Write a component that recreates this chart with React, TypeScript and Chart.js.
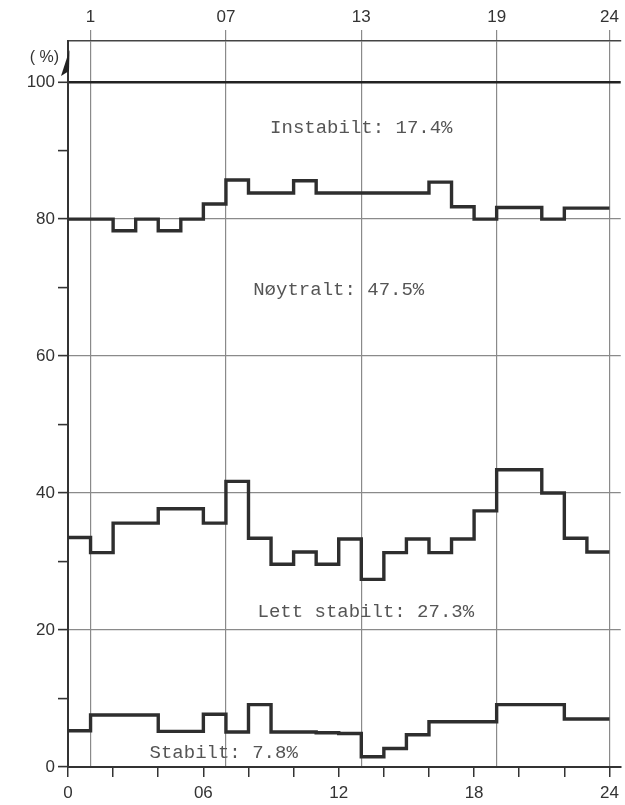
import { useEffect, useRef } from 'react';
import { Chart, registerables } from 'chart.js';

Chart.register(...registerables);

// Hour of day at which each step starts (each step lasts one hour)
const hourStarts = [0, 1, 2, 3, 4, 5, 6, 7, 8, 9, 10, 11, 12, 13, 14, 15, 16, 17, 18, 19, 20, 21, 22, 23];

// Cumulative boundaries (%)
// Upper boundary: Stabilt + Lett stabilt + Nøytralt (above = Instabilt)
const neutralTop = [80, 80, 78.3, 80, 78.3, 80, 82.2, 85.7, 83.8, 83.8, 85.6, 83.8, 83.8, 83.8, 83.8, 83.8, 85.4, 81.8, 80, 81.7, 81.7, 80, 81.6, 81.6];
// Stabilt + Lett stabilt (above = Nøytralt)
const lightStableTop = [33.5, 31.3, 35.6, 35.6, 37.7, 37.7, 35.6, 41.7, 33.4, 29.6, 31.4, 29.6, 33.3, 27.4, 31.3, 33.3, 31.3, 33.3, 37.4, 43.4, 43.4, 40.0, 33.4, 31.4];
// Stabilt
const stableTop = [5.3, 7.6, 7.6, 7.6, 5.2, 5.2, 7.7, 5.1, 9.1, 5.1, 5.1, 5.0, 4.9, 1.5, 2.7, 4.7, 6.6, 6.6, 6.6, 9.1, 9.1, 9.1, 7.0, 7.0];

// Axis ticks
const bottomTickValues = [0, 2, 4, 6, 8, 10, 12, 14, 16, 18, 20, 22, 24];
const bottomTickLabels = ['0', '', '', '06', '', '', '12', '', '', '18', '', '', '24'];
const topTickValues = [1, 7, 13, 19, 24];
const topTickLabels = ['1', '07', '13', '19', '24'];
const yTickValues = [0, 10, 20, 30, 40, 50, 60, 70, 80, 90, 100];
const yTickLabels = ['0', '', '20', '', '40', '', '60', '', '80', '', '100'];

// Class labels and their anchors (data units)
const classLabels = ['Instabilt: 17.4%', 'Nøytralt: 47.5%', 'Lett stabilt: 27.3%', 'Stabilt: 7.8%'];
const classLabelX = [13.0, 12.0, 13.2, 6.9];
const classLabelY = [93.3, 69.6, 22.7, 2.1];

const LINE = '#2e2e2e';
const GRID = '#8a8a8a';
const AXIS_FONT = { family: '"Liberation Sans", "DejaVu Sans", sans-serif', size: 17 };

function steps(values: number[]) {
  const pts = hourStarts.map((h, i) => ({ x: h, y: values[i] }));
  pts.push({ x: 24, y: values[values.length - 1] });
  return pts;
}

const annotations = {
  id: 'annotations',
  afterDraw(chart: any) {
    const { ctx, chartArea } = chart;
    const xs = chart.scales.x;
    const ys = chart.scales.y;
    ctx.save();
    ctx.font = '19px "Liberation Mono", "DejaVu Sans Mono", monospace';
    ctx.fillStyle = '#555';
    ctx.textAlign = 'center';
    ctx.textBaseline = 'middle';
    classLabels.forEach((t, i) => {
      ctx.fillText(t, xs.getPixelForValue(classLabelX[i]), ys.getPixelForValue(classLabelY[i]));
    });
    // y unit label and arrow
    const left = chartArea.left;
    ctx.font = '16px "Liberation Sans", "DejaVu Sans", sans-serif';
    ctx.fillStyle = '#333';
    ctx.textAlign = 'right';
    ctx.fillText('( %)', left - 9, 58);
    ctx.beginPath();
    ctx.moveTo(left + 1.5, 50);
    ctx.lineTo(left - 7, 76);
    ctx.lineTo(left + 1, 71);
    ctx.closePath();
    ctx.fillStyle = '#222';
    ctx.fill();
    ctx.restore();
  },
};

export default function App() {
  const ref = useRef<HTMLCanvasElement>(null);
  useEffect(() => {
    document.body.style.margin = '0';
    const dsBase = {
      borderColor: LINE,
      borderWidth: 3.4,
      pointRadius: 0,
      stepped: 'before' as const,
      fill: false,
      xAxisID: 'x',
      yAxisID: 'y',
    };
    const chart = new Chart(ref.current!, {
      type: 'line',
      data: {
        datasets: [
          { ...dsBase, label: 'Nøytralt', data: steps(neutralTop) },
          { ...dsBase, label: 'Lett stabilt', data: steps(lightStableTop) },
          { ...dsBase, label: 'Stabilt', data: steps(stableTop) },
        ],
      },
      options: {
        responsive: false,
        animation: false,
        devicePixelRatio: 1,
        layout: { padding: 0 },
        plugins: { legend: { display: false }, tooltip: { enabled: false } },
        scales: {
          x: {
            type: 'linear',
            position: 'bottom',
            min: 0,
            max: 24.5,
            afterBuildTicks: (s: any) => {
              s.ticks = bottomTickValues.map((v) => ({ value: v }));
            },
            afterFit: (s: any) => {
              s.height = 38;
            },
            ticks: {
              autoSkip: false,
              maxRotation: 0,
              padding: 6,
              color: '#333',
              font: AXIS_FONT,
              callback: (_v: any, i: number) => bottomTickLabels[i],
            },
            grid: { drawOnChartArea: false, drawTicks: true, tickLength: 10, color: '#333', lineWidth: 1.5 },
            border: { color: '#333', width: 2 },
          },
          x2: {
            type: 'linear',
            axis: 'x',
            position: 'top',
            min: 0,
            max: 24.5,
            afterBuildTicks: (s: any) => {
              s.ticks = topTickValues.map((v) => ({ value: v }));
            },
            afterFit: (s: any) => {
              s.height = 41;
            },
            ticks: {
              autoSkip: false,
              maxRotation: 0,
              padding: 2,
              color: '#333',
              font: AXIS_FONT,
              callback: (_v: any, i: number) => topTickLabels[i],
            },
            grid: { color: GRID, lineWidth: 1.2, drawTicks: true, tickLength: 11 },
            border: { color: '#444', width: 1.5 },
          },
          y: {
            type: 'linear',
            position: 'left',
            min: 0,
            max: 106,
            afterBuildTicks: (s: any) => {
              s.ticks = yTickValues.map((v) => ({ value: v }));
            },
            afterFit: (s: any) => {
              s.width = 68;
            },
            ticks: {
              autoSkip: false,
              padding: 3,
              color: '#333',
              font: AXIS_FONT,
              callback: (_v: any, i: number) => yTickLabels[i],
            },
            grid: {
              color: (c: any) => {
                const v = c.tick ? c.tick.value : -1;
                if (v === 100) return '#222';
                if (v % 20 === 0) return GRID;
                return 'rgba(0,0,0,0)';
              },
              lineWidth: (c: any) => (c.tick && c.tick.value === 100 ? 2.6 : 1.2),
              tickColor: '#333',
              tickWidth: 1.6,
              tickLength: 10,
            },
            border: { color: '#333', width: 2 },
          },
        },
      },
      plugins: [annotations],
    });
    return () => chart.destroy();
  }, []);
  return (
    <div style={{ position: 'absolute', left: 0, top: 0, width: 625, height: 805, background: '#fff' }}>
      <canvas ref={ref} width={625} height={805} style={{ display: 'block' }} />
    </div>
  );
}
